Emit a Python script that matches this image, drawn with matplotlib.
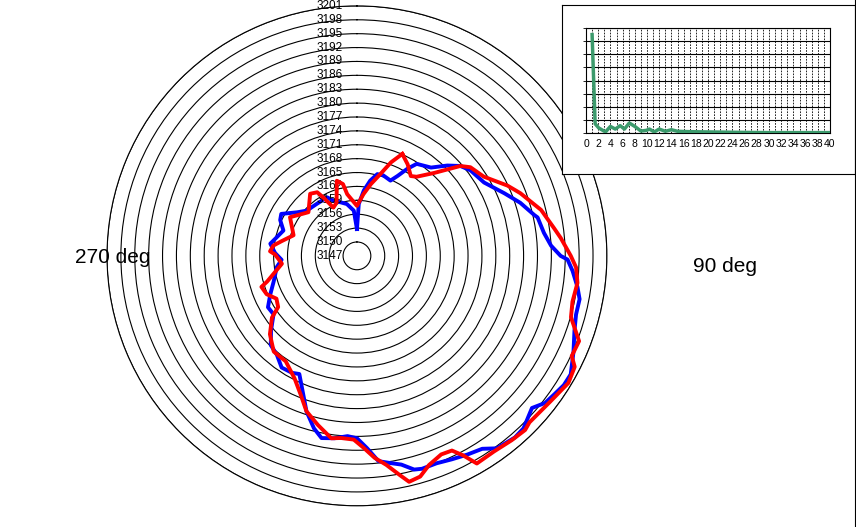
import matplotlib
matplotlib.use('Agg')
import matplotlib.pyplot as plt
from matplotlib.lines import Line2D
import numpy as np

plt.rcParams['font.family'] = ['Liberation Sans', 'DejaVu Sans']

# polar data: angle in degrees (0 = top, clockwise) and radius value
blue_ang = [0, 356, 349, 343, 337, 333, 322, 312, 306, 299, 295, 289, 283, 278, 272, 267, 262, 253, 246, 240,
            235, 229, 224, 219, 214, 209, 206, 202, 198, 194, 191, 187, 183, 180, 177, 174, 171, 168, 165, 163,
            159, 155, 151, 147, 144, 139, 136, 131, 128, 125, 122, 119, 114, 109, 105, 101, 98, 94, 91, 90,
            87, 83, 78, 77, 72, 67, 60, 53, 49, 45, 40, 33, 30, 27, 24, 18, 14, 10, 6, 2, 0]
blue_val = [3152.8, 3156.8, 3158.4, 3159.1, 3159.9, 3161.2, 3161.2, 3161.6, 3163.0, 3165.7, 3165.3, 3163.8,
            3164.8, 3165.9, 3164.7, 3163.3, 3164.5, 3165.8, 3167.5, 3169.2, 3169.0, 3171.6, 3173.8, 3174.5,
            3176.1, 3175.9, 3175.4, 3178.4, 3182.3, 3185.4, 3187.1, 3186.7, 3186.0, 3186.4, 3188.6, 3191.6,
            3192.3, 3193.1, 3194.8, 3195.1, 3195.0, 3195.5, 3196.1, 3196.7, 3198.4, 3199.0, 3198.8, 3197.1,
            3198.6, 3199.1, 3199.7, 3199.8, 3198.2, 3196.7, 3196.0, 3196.0, 3195.1, 3193.7, 3192.5, 3191.0,
            3189.0, 3187.7, 3186.9, 3186.3, 3184.1, 3181.6, 3178.7, 3177.7, 3176.6, 3174.6, 3171.9, 3170.7,
            3168.7, 3166.4, 3164.8, 3165.3, 3165.2, 3163.5, 3161.2, 3158.2, 3152.8]
red_ang = [24, 29, 34, 37, 43, 49, 52, 58, 65, 69, 76, 82, 85, 90, 93, 97, 102, 106, 111, 115, 117, 121, 127,
           134, 136, 140, 145, 150, 152, 154, 157, 161, 164, 167, 169, 172, 175, 178, 181, 185, 188, 193, 198,
           202, 207, 214, 221, 228, 234, 237, 242, 247, 252, 254, 264, 271, 273, 277, 281, 288, 300, 306, 312,
           323, 328, 330, 334, 339, 345, 349, 351, 0, 6, 11, 16, 20, 24]
red_val = [3171.1, 3169.6, 3167.8, 3168.4, 3171.5, 3176.6, 3178.1, 3179.3, 3182.9, 3184.8, 3188.0, 3190.0,
           3191.2, 3193.2, 3194.4, 3195.0, 3194.6, 3195.1, 3198.4, 3198.2, 3199.8, 3200.3, 3199.3, 3198.8,
           3199.3, 3199.0, 3198.6, 3198.8, 3195.8, 3193.8, 3193.6, 3194.8, 3196.6, 3197.1, 3195.2, 3192.6,
           3190.8, 3188.5, 3186.7, 3186.5, 3186.8, 3184.5, 3182.3, 3179.4, 3176.7, 3174.5, 3174.4, 3172.3,
           3169.7, 3167.3, 3166.7, 3168.2, 3168.7, 3167.2, 3163.3, 3164.7, 3165.8, 3165.2, 3163.6, 3161.4,
           3163.7, 3162.2, 3161.1, 3163.8, 3163.2, 3161.6, 3158.6, 3159.3, 3163.8, 3162.8, 3160.5, 3157.8,
           3160.4, 3162.8, 3165.4, 3168.5, 3171.1]
r_labels = list(range(3147, 3202, 3))

# inset data
green_x = [1.0, 1.5, 2.1, 3.2, 4.0, 4.8, 5.6, 6.3, 7.1, 8.0, 9.0, 9.9, 10.4, 11.2, 12.0, 13.0, 14.0, 15.0,
           17.0, 20.0, 25.0, 30.0, 35.0, 40.0]
green_y = [7.5, 0.7, 0.38, 0.08, 0.5, 0.3, 0.56, 0.3, 0.76, 0.5, 0.15, 0.2, 0.3, 0.08, 0.3, 0.13, 0.25, 0.13,
           0.1, 0.08, 0.05, 0.03, 0.03, 0.03]
inset_xticks = list(range(0, 41, 2))

fig = plt.figure(figsize=(8.56, 5.27), dpi=100)

ax = fig.add_axes([0.125, 0.040, 0.584, 0.949], projection='polar')
ax.set_theta_zero_location('N')
ax.set_theta_direction(-1)
ax.plot(np.radians(blue_ang), blue_val, color='#0000ff', lw=2.8, zorder=3)
ax.plot(np.radians(red_ang), red_val, color='#ff0000', lw=2.8, zorder=4)
ax.set_ylim(3147, 3201)
ax.set_yticks(r_labels[1:])
ax.set_yticklabels([])
ax.set_xticks([])
ax.yaxis.grid(True, color='black', lw=0.8, ls='-')
ax.spines['polar'].set_color('black')
ax.spines['polar'].set_linewidth(0.8)
for v in r_labels:
    ax.annotate(str(v), xy=(0, v), xytext=(-10, 0), textcoords='offset points',
                ha='right', va='center', fontsize=8.5, color='black', annotation_clip=False)

fig.text(75 / 856, 1 - 258 / 527, '270 deg', fontsize=15, ha='left', va='center')
fig.text(693 / 856, 1 - 266 / 527, '90 deg', fontsize=15, ha='left', va='center')

# inset box
box = fig.add_axes([562 / 856, 1 - 174 / 527, 293 / 856, 169 / 527])
box.set_xticks([])
box.set_yticks([])
box.set_facecolor('white')
for s in box.spines.values():
    s.set_color('black')
    s.set_linewidth(0.8)

ins = fig.add_axes([586 / 856, 1 - 133 / 527, 244 / 856, 105 / 527])
ins.plot(green_x, green_y, color='#3c9a6c', lw=2.5, zorder=3)
ins.set_xlim(0, 40)
ins.set_ylim(0, 8)
ins.set_xticks(inset_xticks)
ins.set_xticks(range(0, 41), minor=True)
ins.set_yticks(range(0, 9))
ins.set_yticklabels([])
ins.tick_params(axis='x', which='both', length=0, labelsize=7.5, pad=4)
ins.tick_params(axis='y', length=2, width=0.6)
ins.xaxis.grid(True, which='both', color='black', lw=0.6, ls=(0, (2, 1.5)))
ins.yaxis.grid(True, color='black', lw=0.8, ls='-')
for s in ins.spines.values():
    s.set_color('black')
    s.set_linewidth(0.8)

fig.add_artist(Line2D([855 / 856, 855 / 856], [0, 1], color='black', lw=0.8))

fig.savefig('out.png')
